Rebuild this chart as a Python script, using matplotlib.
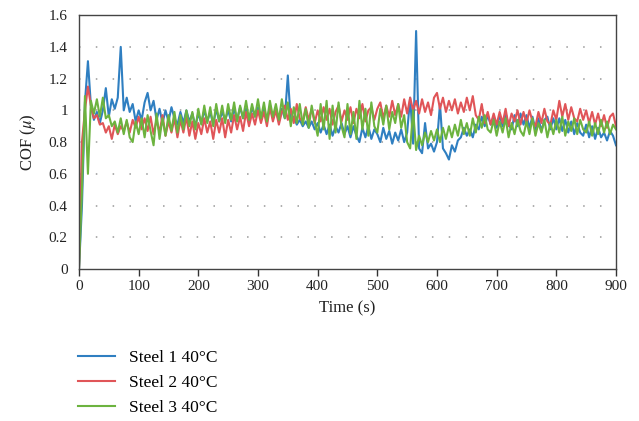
import matplotlib
matplotlib.use("Agg")
import matplotlib.pyplot as plt

plt.rcParams['font.family'] = ['Liberation Serif', 'DejaVu Serif']
plt.rcParams['mathtext.fontset'] = 'stix'

# time in seconds, one reading every 5 s
t = list(range(0, 905, 5))

steel1 = [
    0.00, 0.40, 1.05, 1.31, 1.03, 0.94, 0.99, 0.92, 1.00, 1.14,
    0.96, 1.07, 1.01, 1.08, 1.40, 1.00, 1.08, 0.99, 1.04, 0.93,
    1.00, 0.94, 1.05, 1.11, 1.00, 1.06, 0.94, 1.01, 0.92, 1.00,
    0.93, 1.02, 0.95, 0.91, 0.99, 0.92, 1.00, 0.93, 0.98, 0.90,
    0.98, 0.92, 1.00, 0.93, 0.99, 0.91, 1.01, 0.93, 0.99, 0.94,
    1.00, 0.93, 1.01, 0.94, 1.02, 0.95, 1.01, 0.93, 1.02, 0.96,
    1.02, 0.95, 1.01, 0.94, 1.02, 0.95, 1.00, 0.93, 1.01, 0.95,
    1.22, 0.93, 0.96, 0.91, 0.94, 0.90, 0.93, 0.89, 0.93, 0.88,
    0.92, 0.86, 0.91, 0.85, 0.91, 0.84, 0.90, 0.86, 0.92, 0.85,
    0.90, 0.83, 0.90, 0.84, 0.80, 0.89, 0.83, 0.90, 0.82, 0.88,
    0.85, 0.80, 0.89, 0.82, 0.87, 0.79, 0.86, 0.81, 0.88, 0.80,
    0.86, 1.08, 0.79, 1.50, 0.76, 0.73, 0.92, 0.76, 0.79, 0.74,
    0.80, 1.04, 0.76, 0.73, 0.69, 0.78, 0.74, 0.81, 0.83, 0.89,
    0.84, 0.88, 0.83, 0.91, 0.88, 0.96, 0.90, 0.97, 0.91, 0.96,
    0.89, 0.97, 0.90, 0.98, 0.91, 0.88, 0.97, 0.90, 0.98, 0.91,
    0.97, 0.89, 0.96, 0.88, 0.95, 0.87, 0.94, 0.96, 0.88, 0.95,
    0.88, 0.95, 0.87, 0.94, 0.86, 0.93, 0.85, 0.92, 0.86, 0.84,
    0.91, 0.83, 0.90, 0.82, 0.89, 0.83, 0.86, 0.81, 0.87, 0.84,
    0.78,
]

steel2 = [
    0.00, 0.80, 1.00, 1.15, 1.03, 0.95, 0.97, 0.91, 0.92, 0.86,
    0.90, 0.82, 0.91, 0.85, 0.90, 0.87, 0.93, 0.86, 0.94, 0.89,
    0.96, 0.88, 0.95, 0.87, 0.96, 0.85, 0.94, 0.86, 0.97, 0.84,
    0.93, 0.86, 0.95, 0.83, 0.94, 0.86, 0.96, 0.84, 0.93, 0.82,
    0.92, 0.85, 0.95, 0.86, 0.93, 0.82, 0.94, 0.86, 0.95, 0.83,
    0.94, 0.86, 0.97, 0.88, 0.96, 0.87, 0.99, 0.90, 0.98, 0.91,
    1.00, 0.92, 0.99, 0.90, 1.02, 0.93, 1.00, 0.91, 0.99, 1.03,
    0.94, 1.01, 0.92, 1.04, 0.95, 0.93, 1.02, 0.94, 1.01, 0.92,
    1.00, 0.93, 1.02, 0.94, 1.01, 0.91, 0.99, 1.03, 0.93, 1.00,
    0.94, 1.02, 0.92, 1.01, 0.95, 1.04, 0.93, 1.00, 1.02, 0.94,
    1.01, 1.05, 0.95, 1.03, 0.96, 1.06, 0.97, 1.04, 0.96, 1.07,
    0.98, 1.08, 1.00, 1.06, 0.98, 1.07, 0.99, 1.05, 0.97, 1.08,
    1.11, 1.01, 1.08, 0.99, 1.06, 1.00, 1.07, 0.98, 1.05, 0.99,
    1.08, 1.00, 1.09, 0.97, 0.94, 1.04, 0.92, 0.99, 0.91, 0.98,
    0.91, 0.99, 0.92, 1.01, 0.90, 0.98, 0.93, 1.00, 0.91, 0.99,
    0.92, 1.00, 0.93, 0.90, 0.99, 0.92, 1.01, 0.93, 0.91, 1.00,
    0.94, 1.06, 0.96, 1.04, 0.94, 1.02, 0.95, 0.93, 1.01, 0.94,
    1.00, 0.92, 0.99, 0.91, 0.98, 0.90, 0.97, 0.89, 0.96, 0.98,
    0.90,
]

steel3 = [
    0.00, 0.50, 1.09, 0.60, 1.06, 0.98, 1.07, 0.96, 1.08, 0.95,
    0.97, 0.90, 0.93, 0.86, 0.95, 0.85, 0.94, 0.83, 0.80, 0.93,
    0.85, 0.95, 0.83, 0.97, 0.87, 0.78, 0.98, 0.82, 0.95, 0.84,
    0.97, 0.87, 0.99, 0.86, 0.97, 0.88, 1.00, 0.90, 0.99, 0.88,
    1.01, 0.91, 1.03, 0.92, 1.02, 0.90, 1.04, 0.93, 1.03, 0.92,
    1.04, 0.94, 1.05, 0.93, 1.03, 0.95, 1.06, 0.94, 1.04, 0.96,
    1.07, 0.95, 1.05, 0.93, 1.06, 0.96, 1.04, 0.94, 1.07, 0.95,
    1.05, 0.90, 1.02, 0.92, 1.04, 0.91, 1.01, 0.89, 1.03, 0.93,
    0.84, 1.04, 0.88, 1.06, 0.82, 1.03, 0.86, 1.05, 0.90, 0.83,
    1.04, 0.85, 0.99, 0.82, 1.06, 0.88, 1.01, 0.84, 1.05, 0.90,
    0.86, 1.01, 0.91, 1.03, 0.88, 0.99, 0.92, 1.04, 0.89, 0.97,
    0.80, 0.76, 1.00, 0.75, 0.84, 0.78, 0.86, 0.80, 0.87, 0.81,
    0.88, 0.80, 0.89, 0.82, 0.90, 0.83, 0.91, 0.84, 0.94, 0.85,
    0.92, 0.84, 0.95, 0.86, 0.96, 0.89, 0.97, 0.88, 0.86, 0.94,
    0.84, 0.93, 0.86, 0.95, 0.83, 0.92, 0.85, 0.94, 0.87, 0.84,
    0.93, 0.85, 0.95, 0.84, 0.92, 0.86, 0.94, 0.83, 0.92, 0.85,
    0.94, 0.86, 0.96, 0.84, 0.93, 0.87, 0.95, 0.85, 0.94, 0.88,
    0.86, 0.93, 0.84, 0.92, 0.85, 0.94, 0.86, 0.93, 0.85, 0.91,
    0.88,
]

labels = ['Steel 1 40°C', 'Steel 2 40°C', 'Steel 3 40°C']
colors = ['#2f7fc1', '#e05558', '#6cb33f']

fig = plt.figure(figsize=(6.39, 4.21), dpi=100)
ax = fig.add_axes([0.1236, 0.361, 0.8404, 0.603])

for y, lab, col in zip([steel1, steel2, steel3], labels, colors):
    ax.plot(t, y, color=col, lw=1.5, label=lab)

ax.set_xlim(0, 900)
ax.set_ylim(0, 1.6)
ax.set_xticks(range(0, 1000, 100))
ax.set_yticks([0, 0.2, 0.4, 0.6, 0.8, 1, 1.2, 1.4, 1.6])
ax.set_yticklabels(['0', '0.2', '0.4', '0.6', '0.8', '1', '1.2', '1.4', '1.6'])
ax.tick_params(axis='x', direction='out', length=5, width=1, color='#333333',
               labelsize=11, pad=3, labelcolor='#222222')
ax.tick_params(axis='y', length=0, labelsize=11, pad=8, labelcolor='#222222')

for sp in ax.spines.values():
    sp.set_color('#444444')
    sp.set_linewidth(1.0)

for gy in [0.2, 0.4, 0.6, 0.8, 1.0, 1.2, 1.4]:
    ax.axhline(gy, color='#999999', lw=1.1, ls=(0, (1, 10)), zorder=0)

ax.set_xlabel('Time (s)', fontsize=12, color='#222222', labelpad=5)
ax.set_ylabel('COF ($\\mu$)', fontsize=12, color='#222222', labelpad=8)

fig.legend(loc='upper left', bbox_to_anchor=(0.1116, 0.185), frameon=False,
           fontsize=12.5, handlelength=2.1, handletextpad=0.85, labelspacing=0.5,
           borderaxespad=0)

fig.savefig('out.png', dpi=100)
